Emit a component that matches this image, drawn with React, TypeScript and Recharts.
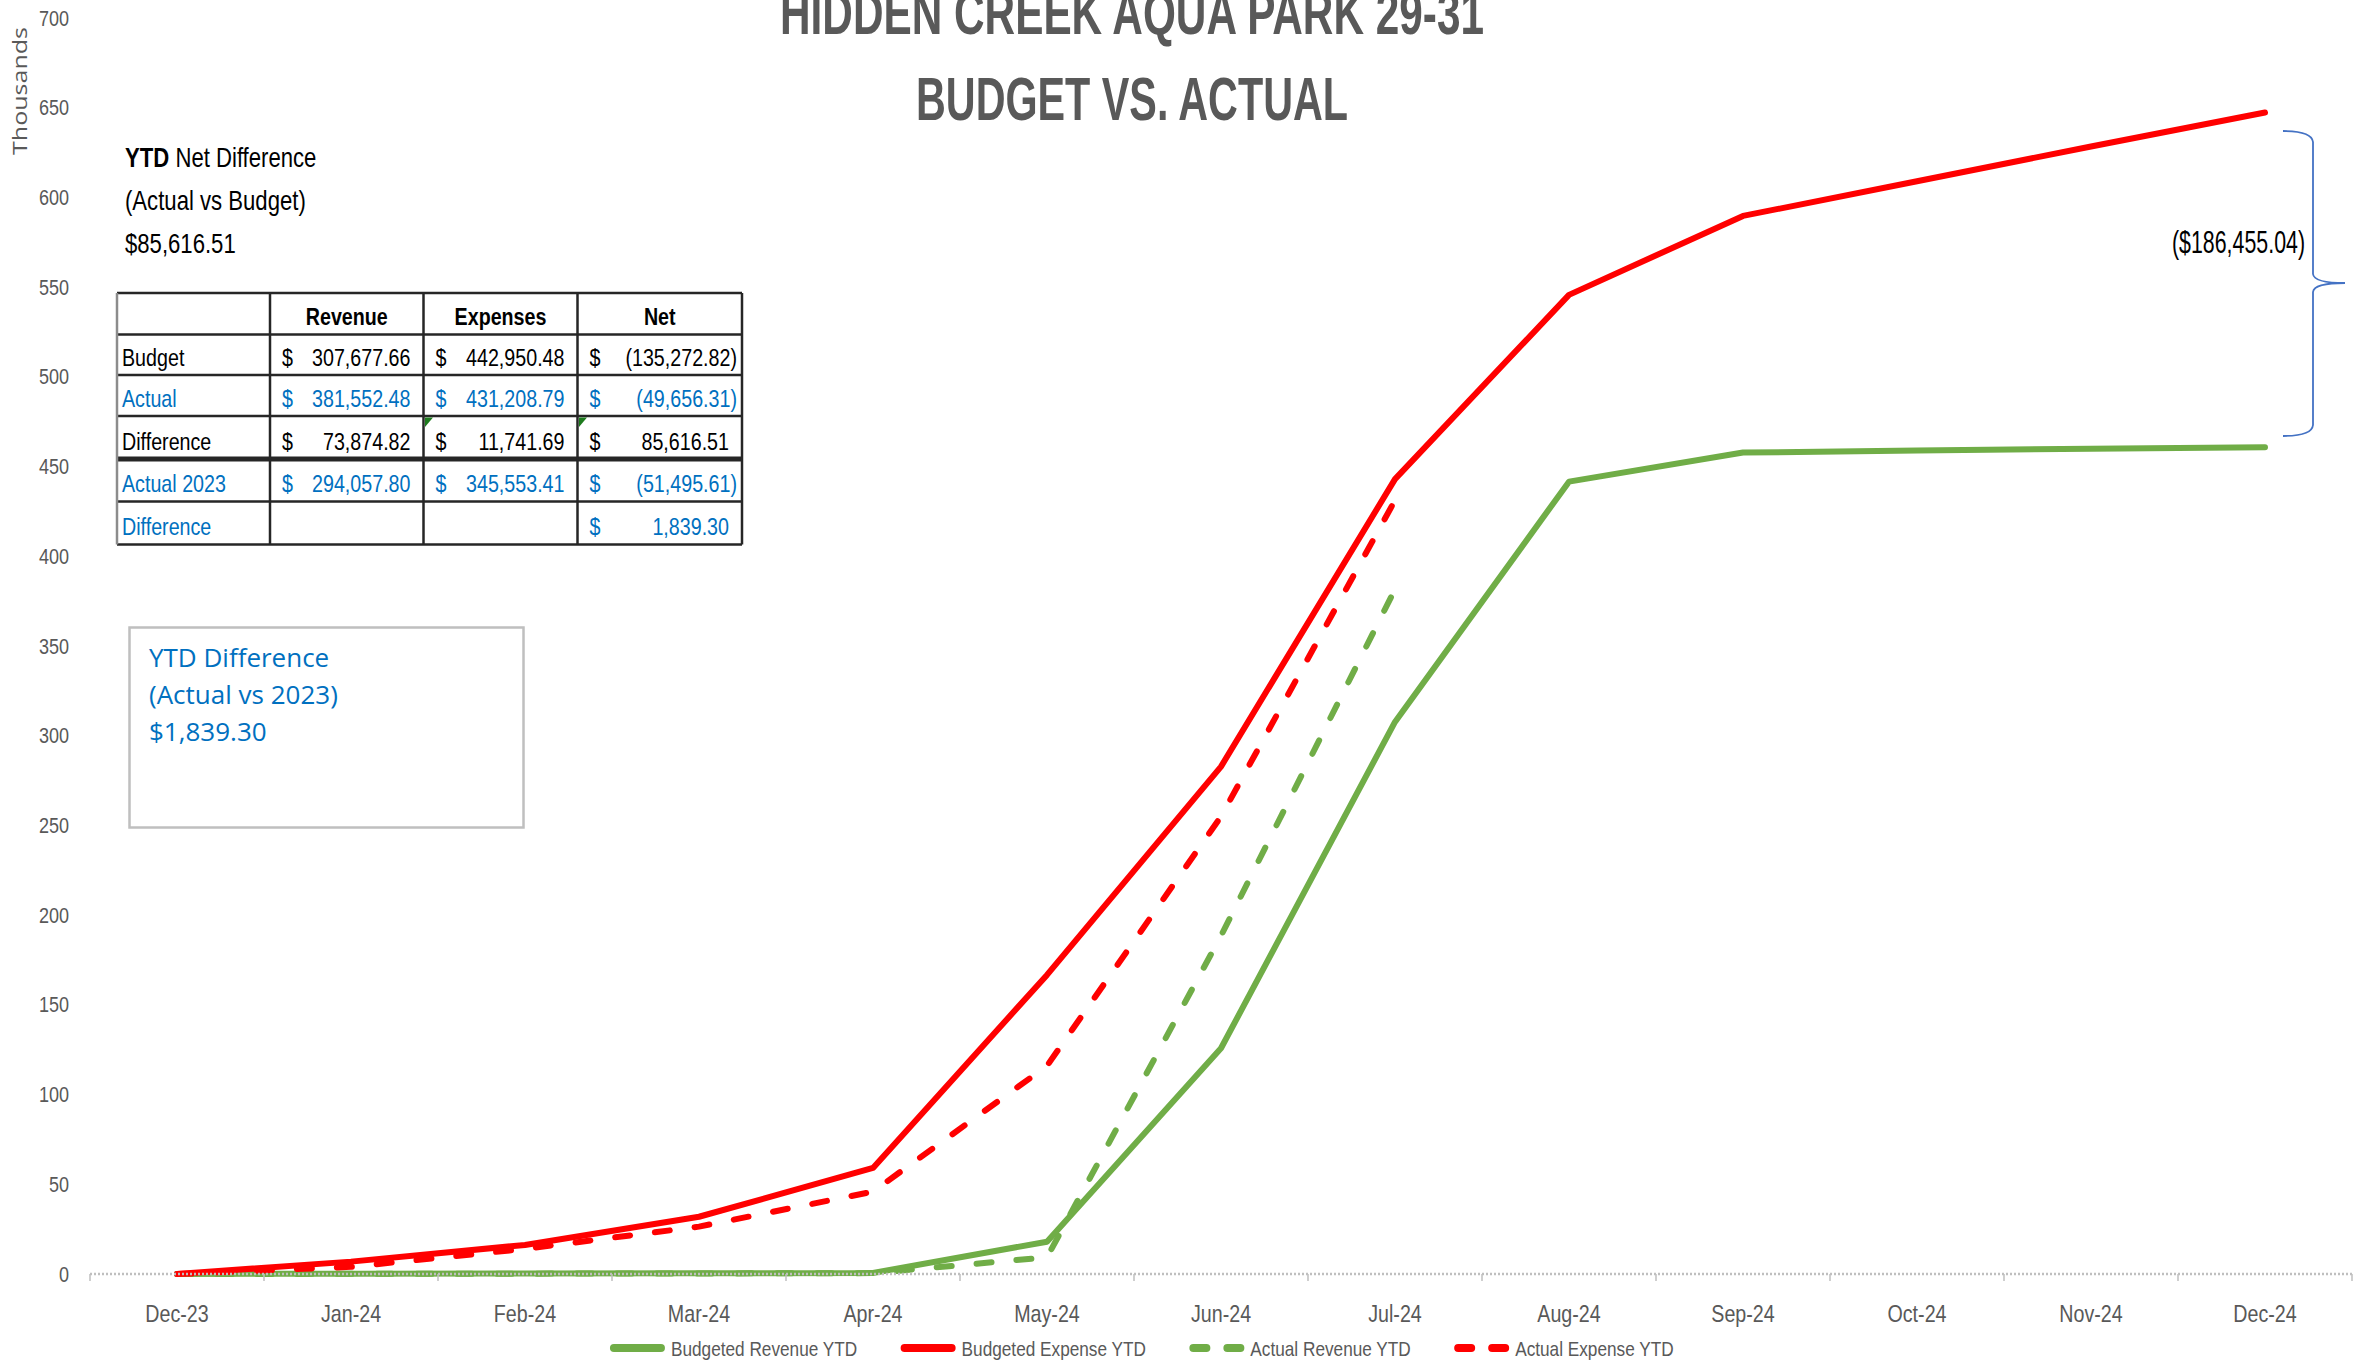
import { CartesianGrid, Legend, Line, LineChart, XAxis, YAxis } from 'recharts'

const SANS = '"Liberation Sans", Arial, sans-serif'
const WIDE = '"Open Sans", "Noto Sans", sans-serif'
const SQUEEZE = 0.82 // Liberation Sans squeezed to the narrow Excel look
const GREY_TEXT = '#595959'
const BLUE_TEXT = '#0070C0'

const MONTHS = ['Dec-23', 'Jan-24', 'Feb-24', 'Mar-24', 'Apr-24', 'May-24', 'Jun-24', 'Jul-24', 'Aug-24', 'Sep-24', 'Oct-24', 'Nov-24', 'Dec-24']
// values in thousands of dollars, year to date
const BUDGET_REVENUE = [0, 0.2, 0.3, 0.4, 0.6, 18.0, 125.8, 307.7, 441.6, 457.8, 458.9, 460.0, 460.8]
const BUDGET_EXPENSE = [0, 6.9, 16.2, 31.9, 59.1, 166.7, 282.8, 443.0, 545.7, 589.7, 609.0, 628.4, 647.3]
const ACTUAL_REVENUE = [0, 0.1, 0.2, 0.3, 0.5, 9.3, 188.5, 381.6, null, null, null, null, null]
const ACTUAL_EXPENSE = [0, 4.0, 14.0, 26.4, 45.9, 116.0, 255.0, 431.2, null, null, null, null, null]
const Y_TICKS = [0, 50, 100, 150, 200, 250, 300, 350, 400, 450, 500, 550, 600, 650, 700]
const SERIES_ORDER = ['Budgeted Revenue YTD', 'Budgeted Expense YTD', 'Actual Revenue YTD', 'Actual Expense YTD']

// summary table shown on the chart
const TABLE_HEAD = ['Revenue', 'Expenses', 'Net']
const TABLE_ROWS = ['Budget', 'Actual', 'Difference', 'Actual 2023', 'Difference']
const TABLE_BLUE = [false, true, false, true, true]
const TABLE_REVENUE = ['307,677.66', '381,552.48', '73,874.82', '294,057.80', '']
const TABLE_EXPENSES = ['442,950.48', '431,208.79', '11,741.69', '345,553.41', '']
const TABLE_NET = ['(135,272.82)', '(49,656.31)', '85,616.51', '(51,495.61)', '1,839.30']

const data = MONTHS.map((month, idx) => ({
  idx,
  month,
  budgetRevenue: BUDGET_REVENUE[idx],
  budgetExpense: BUDGET_EXPENSE[idx],
  actualRevenue: ACTUAL_REVENUE[idx],
  actualExpense: ACTUAL_EXPENSE[idx],
}))

// ticks at month centres (labels) and month boundaries (tick marks)
const X_TICKS = MONTHS.flatMap((_, i) => [i - 0.5, i]).concat(MONTHS.length - 0.5)

function NText({ x, y, size, anchor = 'start', weight, fill = '#000', children }: any) {
  return (
    <text
      transform={`translate(${x} ${y}) scale(${SQUEEZE} 1)`}
      textAnchor={anchor}
      fontFamily={SANS}
      fontSize={size}
      fontWeight={weight}
      fill={fill}
    >
      {children}
    </text>
  )
}

let measureCtx: CanvasRenderingContext2D | null = null
function narrowWidth(text: string, size: number) {
  if (!measureCtx) measureCtx = document.createElement('canvas').getContext('2d')
  if (!measureCtx) return text.length * size * 0.45
  measureCtx.font = `${size}px ${SANS}`
  return measureCtx.measureText(text).width * SQUEEZE
}

function MonthTick({ x, y, payload }: any) {
  const v = payload.value
  if (!Number.isInteger(v)) {
    return <line x1={x} x2={x} y1={y} y2={y + 7} stroke="#bfbfbf" strokeWidth={1.5} />
  }
  return <NText x={x} y={y + 48} size={24} anchor="middle" fill={GREY_TEXT}>{MONTHS[v]}</NText>
}

function ValueTick({ x, y, payload }: any) {
  return <NText x={x} y={y + 7.5} size={22} anchor="end" fill={GREY_TEXT}>{payload.value}</NText>
}

function LegendContent({ payload }: any) {
  const items = [...(payload ?? [])].sort(
    (a: any, b: any) => SERIES_ORDER.indexOf(a.value) - SERIES_ORDER.indexOf(b.value),
  )
  const size = 21
  const marker = 55
  const widths = items.map((e: any) => marker + 6 + narrowWidth(String(e.value), size))
  const total = widths.reduce((s: number, w: number) => s + w, 0) + 43 * (items.length - 1)
  let cursor = 1142 - total / 2
  return (
    <svg width={2352} height={31} style={{ display: 'block' }}>
      {items.map((entry: any, i: number) => {
        const x0 = cursor
        cursor += widths[i] + 43
        const dashed = String(entry.value).startsWith('Actual')
        return (
          <g key={entry.value}>
            <line
              x1={x0 + 4}
              x2={x0 + marker - 4}
              y1={16}
              y2={16}
              stroke={entry.color}
              strokeWidth={8}
              strokeLinecap="round"
              strokeDasharray={dashed ? '13 21' : undefined}
            />
            <NText x={x0 + marker + 6} y={23.5} size={size} fill={GREY_TEXT}>{entry.value}</NText>
          </g>
        )
      })}
    </svg>
  )
}

function Table() {
  const cols = [117, 270, 423.5, 577.5, 742]
  const rows = [293, 334.5, 375, 416, 459, 501.5, 544.5]
  const dark = '#262626'
  const cell = (text: string, col: number, row: number, color: string) => {
    if (!text) return null
    const neg = text.startsWith('(')
    const base = rows[row + 1] - 9.5
    return (
      <g key={`${col}-${row}`}>
        <NText x={cols[col] + 12} y={base} size={24} fill={color}>$</NText>
        <NText x={cols[col + 1] - (neg ? 5 : 13)} y={base} size={24} fill={color} anchor="end">{text}</NText>
      </g>
    )
  }
  return (
    <g>
      <rect x={cols[0]} y={rows[0]} width={cols[4] - cols[0]} height={rows[6] - rows[0]} fill="#fff" />
      {TABLE_HEAD.map((h, i) => (
        <NText key={h} x={(cols[i + 1] + cols[i + 2]) / 2} y={rows[1] - 9.5} size={24} anchor="middle" weight="bold">
          {h}
        </NText>
      ))}
      {TABLE_ROWS.map((label, r) => {
        const color = TABLE_BLUE[r] ? BLUE_TEXT : '#000'
        return (
          <g key={r}>
            <NText x={cols[0] + 5} y={rows[r + 2] - 9.5} size={24} fill={color}>{label}</NText>
            {cell(TABLE_REVENUE[r], 1, r + 1, color)}
            {cell(TABLE_EXPENSES[r], 2, r + 1, color)}
            {cell(TABLE_NET[r], 3, r + 1, color)}
          </g>
        )
      })}
      {rows.map((y, i) => (
        <line key={`h${i}`} x1={cols[0]} x2={cols[4]} y1={y} y2={y} stroke={dark} strokeWidth={i === 4 ? 5 : 2.5} />
      ))}
      {cols.map((x, i) => (
        <line key={`v${i}`} x1={x} x2={x} y1={rows[0]} y2={rows[6]} stroke={i === 0 ? '#8c8c8c' : dark} strokeWidth={2.5} />
      ))}
      <polygon points="425,417.5 433,417.5 425,427" fill="#1e7b1e" />
      <polygon points="579,417.5 587,417.5 579,427" fill="#1e7b1e" />
    </g>
  )
}

function Annotations() {
  return (
    <svg
      width={2364}
      height={1363}
      style={{ position: 'absolute', left: 0, top: 0, pointerEvents: 'none' }}
    >
      {/* title */}
      <rect x={780} y={0} width={704} height={46} fill="#fff" />
      <text x={1132} y={34} textAnchor="middle" fontFamily={SANS} fontWeight="bold" fontSize={62} fill={GREY_TEXT} textLength={704} lengthAdjust="spacingAndGlyphs">
        HIDDEN CREEK AQUA PARK 29-31
      </text>
      <rect x={916} y={68} width={436} height={60} fill="#fff" />
      <text x={1132} y={120} textAnchor="middle" fontFamily={SANS} fontWeight="bold" fontSize={62} fill={GREY_TEXT} textLength={432} lengthAdjust="spacingAndGlyphs">
        BUDGET VS. ACTUAL
      </text>

      {/* axis title */}
      <text transform="translate(27 91) rotate(-90)" textAnchor="middle" fontFamily={WIDE} fontSize={20} fill={GREY_TEXT} textLength={128} lengthAdjust="spacingAndGlyphs">
        Thousands
      </text>

      {/* net difference note */}
      <rect x={120} y={138} width={198} height={126} fill="#fff" />
      <NText x={125} y={167} size={27}>
        <tspan fontWeight="bold">YTD</tspan> Net Difference
      </NText>
      <NText x={125} y={210} size={27}>(Actual vs Budget)</NText>
      <NText x={125} y={253} size={27}>$85,616.51</NText>

      <Table />

      {/* difference vs 2023 box */}
      <rect x={129.5} y={627.5} width={394} height={200} fill="#fff" stroke="#bfbfbf" strokeWidth={2.5} />
      <g fontFamily={WIDE} fontSize={26} fill={BLUE_TEXT}>
        <text x={149} y={667}>YTD Difference</text>
        <text x={149} y={704}>(Actual vs 2023)</text>
        <text x={149} y={741}>$1,839.30</text>
      </g>

      {/* year end gap bracket */}
      <path
        d="M 2283 131 Q 2312 131 2313 142 L 2313 274 Q 2314 283 2345 283 Q 2314 283 2313 292 L 2313 425 Q 2312 436 2283 436"
        fill="none"
        stroke="#4472C4"
        strokeWidth={1.8}
      />
      <text x={2305} y={253} textAnchor="end" fontFamily={SANS} fontSize={31} fill="#000" textLength={133} lengthAdjust="spacingAndGlyphs">
        ($186,455.04)
      </text>
    </svg>
  )
}

export default function App() {
  return (
    <div style={{ position: 'absolute', left: 0, top: 0, width: 2364, height: 1363, background: '#fff' }}>
      <LineChart width={2364} height={1363} data={data} margin={{ top: 18, right: 12, left: 0, bottom: 0 }}>
        <CartesianGrid
          vertical={false}
          stroke="#d9d9d9"
          strokeWidth={2.5}
          horizontalCoordinatesGenerator={(props: any) => {
            const scale = props?.yAxis?.scale
            if (typeof scale !== 'function') return []
            return Y_TICKS.filter((v) => v > 0).map((v) => scale(v))
          }}
        />
        <XAxis
          dataKey="idx"
          type="number"
          domain={[-0.5, MONTHS.length - 0.5]}
          ticks={X_TICKS}
          interval={0}
          height={58}
          tickSize={0}
          tickMargin={0}
          tickLine={false}
          axisLine={{ stroke: '#bfbfbf', strokeWidth: 2.5, strokeDasharray: '2 2' }}
          tick={<MonthTick />}
        />
        <YAxis
          domain={[0, 700]}
          ticks={Y_TICKS}
          interval={0}
          width={90}
          axisLine={false}
          tickLine={false}
          tickSize={0}
          tickMargin={21}
          tick={<ValueTick />}
        />
        <Legend verticalAlign="bottom" height={31} content={<LegendContent />} />
        <Line name="Budgeted Revenue YTD" dataKey="budgetRevenue" stroke="#70AD47" strokeWidth={6} dot={false} strokeLinecap="round" strokeLinejoin="round" isAnimationActive={false} />
        <Line name="Budgeted Expense YTD" dataKey="budgetExpense" stroke="#FF0000" strokeWidth={6} dot={false} strokeLinecap="round" strokeLinejoin="round" isAnimationActive={false} />
        <Line name="Actual Revenue YTD" dataKey="actualRevenue" stroke="#70AD47" strokeWidth={6} strokeDasharray="15 25" dot={false} strokeLinecap="round" strokeLinejoin="round" isAnimationActive={false} />
        <Line name="Actual Expense YTD" dataKey="actualExpense" stroke="#FF0000" strokeWidth={6} strokeDasharray="15 25" dot={false} strokeLinecap="round" strokeLinejoin="round" isAnimationActive={false} />
      </LineChart>
      <Annotations />
    </div>
  )
}
